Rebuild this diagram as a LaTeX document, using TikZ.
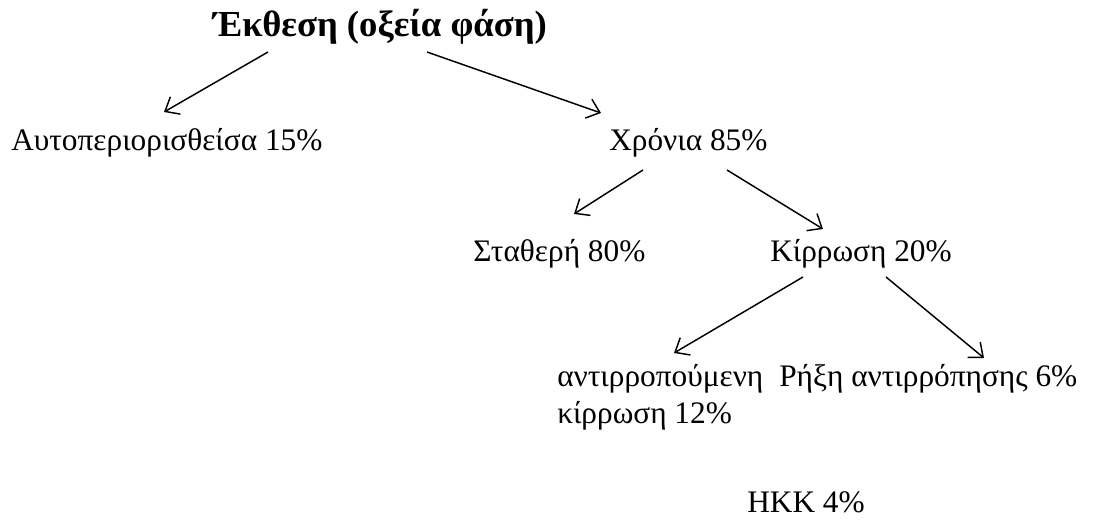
\documentclass[tikz,border=0pt]{standalone}
\usepackage{fontspec}
\setmainfont{Liberation Serif}
\usetikzlibrary{arrows.meta}
\tikzset{
  lbl/.style={inner sep=0pt, anchor=base west, font=\fontsize{23.5}{27.75}\selectfont},
  ttl/.style={inner sep=0pt, anchor=base, font=\fontsize{27.5}{30}\selectfont\bfseries},
  arr/.style={line width=1.1pt, -{Straight Barb[length=9pt,width=15pt,line width=1.1pt]}}
}
\begin{document}
\begin{tikzpicture}[x=0.75pt,y=-0.75pt]
\useasboundingbox (0,0) rectangle (1104,519);
\node[ttl] (root) at (380,36) {Έκθεση (οξεία φάση)};
\node[lbl] (auto) at (11,150) {Αυτοπεριορισθείσα 15\%};
\node[lbl] (chr) at (609,150) {Χρόνια 85\%};
\node[lbl] (stath) at (473,261) {Σταθερή 80\%};
\node[lbl] (kirr) at (770,261) {Κίρρωση 20\%};
\node[lbl, align=left] (antir) at (557,423) {αντιρροπούμενη\\κίρρωση 12\%};
\node[lbl] (rixi) at (779,386) {Ρήξη αντιρρόπησης 6\%};
\node[lbl] (hkk) at (747,512) {HKK 4\%};
\coordinate (a1s) at (268,52); \coordinate (a1e) at (164,112);
\coordinate (a2s) at (427,52); \coordinate (a2e) at (601,113);
\coordinate (a3s) at (643,170); \coordinate (a3e) at (574,214);
\coordinate (a4s) at (727,170); \coordinate (a4e) at (823,229);
\coordinate (a5s) at (803,277); \coordinate (a5e) at (674,353);
\coordinate (a6s) at (886,277); \coordinate (a6e) at (984,358);
\draw[arr] (a1s) -- (a1e);
\draw[arr] (a2s) -- (a2e);
\draw[arr] (a3s) -- (a3e);
\draw[arr] (a4s) -- (a4e);
\draw[arr] (a5s) -- (a5e);
\draw[arr] (a6s) -- (a6e);
\end{tikzpicture}
\end{document}
